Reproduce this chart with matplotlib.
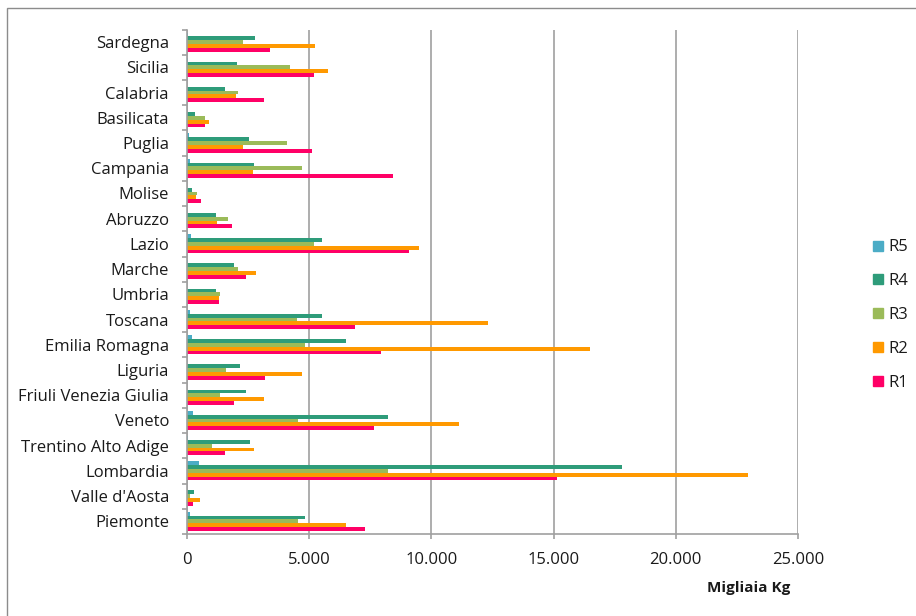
import matplotlib
matplotlib.use("Agg")
import matplotlib.pyplot as plt
import matplotlib.patches as patches
from matplotlib.lines import Line2D
from matplotlib.ticker import FuncFormatter
import numpy as np

plt.rcParams['font.family'] = ['Open Sans', 'DejaVu Sans']

# regioni dal basso verso l'alto
regioni = ["Piemonte", "Valle d'Aosta", "Lombardia", "Trentino Alto Adige", "Veneto",
           "Friuli Venezia Giulia", "Liguria", "Emilia Romagna", "Toscana", "Umbria",
           "Marche", "Lazio", "Abruzzo", "Molise", "Campania", "Puglia", "Basilicata",
           "Calabria", "Sicilia", "Sardegna"]

# migliaia di kg
r1 = [7290, 230, 15120, 1550, 7640, 1920, 3200, 7930, 6860, 1300,
      2410, 9070, 1850, 590, 8440, 5110, 720, 3140, 5180, 3390]
r2 = [6500, 530, 22970, 2750, 11140, 3150, 4720, 16480, 12310, 1290,
      2810, 9490, 1230, 370, 2690, 2290, 890, 2020, 5770, 5250]
r3 = [4530, 140, 8210, 1020, 4540, 1350, 1610, 4810, 4490, 1360,
      2070, 5180, 1660, 400, 4720, 4080, 750, 2090, 4210, 2280]
r4 = [4830, 300, 17790, 2580, 8230, 2410, 2150, 6490, 5510, 1190,
      1920, 5520, 1200, 190, 2750, 2520, 330, 1550, 2030, 2770]
r5 = [110, 10, 480, 30, 230, 20, 20, 200, 110, 10,
      40, 160, 20, 5, 110, 70, 10, 20, 50, 30]

serie = [("R1", r1, "#FF0066"), ("R2", r2, "#FF9900"), ("R3", r3, "#9BBB59"),
         ("R4", r4, "#2E9C7A"), ("R5", r5, "#4BACC6")]

W, H = 916, 616
fig = plt.figure(figsize=(W / 100, H / 100), dpi=100)
ax = fig.add_axes([187 / W, 1 - 534 / H, (798 - 187) / W, (534 - 29.5) / H])

y = np.arange(len(regioni))
h = 0.151
for i, (nome, valori, colore) in enumerate(serie):
    ax.barh(y + (i - 2) * h, valori, height=h, color=colore, label=nome)

ax.set_xlim(0, 25000)
ax.set_ylim(-0.5, len(regioni) - 0.5)
ax.set_xticks(np.arange(0, 25001, 5000))
ax.xaxis.set_major_formatter(FuncFormatter(lambda v, p: f"{int(v):,}".replace(",", ".")))
ax.set_yticks(y)
ax.set_yticklabels(regioni)
ax.set_yticks(np.arange(-0.5, len(regioni), 1), minor=True)

grigio = "#A0A0A0"
ax.grid(axis="x", color=grigio, lw=1.2)
ax.set_axisbelow(True)
for s in ["top", "right"]:
    ax.spines[s].set_visible(False)
for s in ["left", "bottom"]:
    ax.spines[s].set_color(grigio)
    ax.spines[s].set_linewidth(1.2)

testo = "#1a1a1a"
fs = 12
ax.tick_params(axis="y", which="major", length=0, pad=13, labelsize=fs, labelcolor=testo)
ax.tick_params(axis="y", which="minor", length=3.6, width=1.2, color=grigio)
ax.tick_params(axis="x", length=3.6, width=1.2, color=grigio, pad=9, labelsize=fs, labelcolor=testo)

fig.text(707 / W, 1 - 588 / H, "Migliaia Kg", fontsize=11, fontweight="bold",
         va="center", ha="left", color=testo)

maniglie = [Line2D([], [], marker="s", ls="", markersize=7.3, color=c) for _, _, c in serie[::-1]]
nomi = [n for n, _, _ in serie[::-1]]
fig.legend(maniglie, nomi, loc="center left", bbox_to_anchor=(864 / W, 1 - 315 / H),
           frameon=False, fontsize=fs, handlelength=0.7, handletextpad=0.25,
           labelspacing=1.07, borderpad=0, labelcolor=testo)

# cornice del grafico
fig.patches.append(patches.Rectangle((7 / W, -0.1), 1.2, 1.1 - 8 / H, transform=fig.transFigure,
                                     fill=False, ec="#8C8C8C", lw=1.0))

fig.savefig("out.png", dpi=100)
